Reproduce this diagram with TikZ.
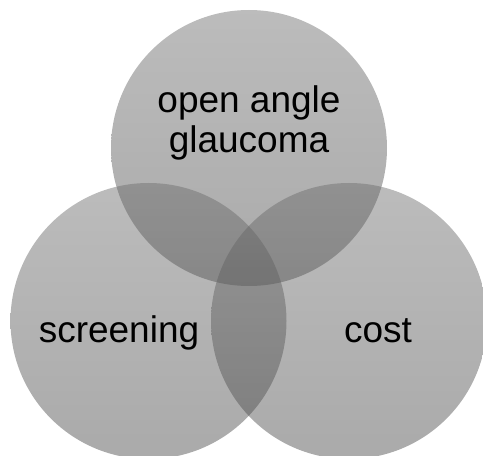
\documentclass[tikz,border=0pt]{standalone}
\usepackage{fontspec}
\setmainfont{Liberation Sans}
\definecolor{g1}{RGB}{108,108,108}
\definecolor{g2}{RGB}{70,70,70}

\begin{document}
\begin{tikzpicture}[x=1pt,y=1pt]
    \useasboundingbox (0,0) rectangle (483,456);
    \clip (0,0) rectangle (483,456);
    \tikzset{disc/.style={top color=g1,bottom color=g2,fill opacity=0.46,draw=none}}
    % the three sets
    \coordinate (top) at (249,308);
    \coordinate (lft) at (148.5,135);
    \coordinate (rgt) at (349,135);
    \shade[disc] (top) circle (138);
    \shade[disc] (lft) circle (138);
    \shade[disc] (rgt) circle (138);
    % labels
    \node[inner sep=0pt,align=center,font=\fontsize{37}{40}\selectfont] (glaucoma) at (249,333) {open angle\\glaucoma};
    \node[inner sep=0pt,anchor=base,font=\fontsize{37}{40}\selectfont] (screening) at (119,113) {screening};
    \node[inner sep=0pt,anchor=base,font=\fontsize{37}{40}\selectfont] (cost) at (378,113) {cost};
\end{tikzpicture}
\end{document}
